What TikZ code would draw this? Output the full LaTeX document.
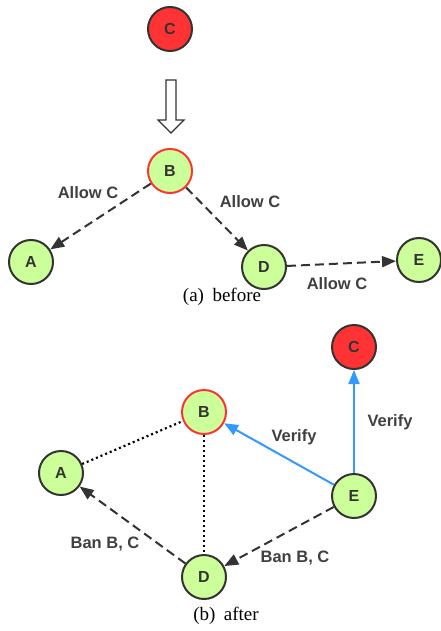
\documentclass[tikz,border=0pt]{standalone}
\usepackage{fontspec}
\setmainfont{Liberation Serif}
\newfontfamily\lblfont{Liberation Sans}
\usetikzlibrary{arrows.meta}
\definecolor{ngreen}{HTML}{CCFF99}
\definecolor{nred}{HTML}{FF3333}
\definecolor{ngray}{HTML}{333333}
\definecolor{tgray}{HTML}{404040}
\definecolor{vblue}{HTML}{3399FF}
\tikzset{
  gnode/.style={circle,draw=ngray,fill=ngreen,line width=2pt,minimum size=44pt,inner sep=0pt,font=\lblfont\bfseries\fontsize{16}{16}\selectfont,text=ngray},
  bnode/.style={gnode,draw=nred},
  rnode/.style={gnode,fill=nred},
  dasharrow/.style={ngray,line width=2pt,dash pattern=on 9pt off 5pt,-{Triangle[length=14pt,width=11pt]}},
  verifyarrow/.style={vblue,line width=2pt,-{Triangle[length=14pt,width=11pt]}},
  dotline/.style={black,line width=2.2pt,dash pattern=on 2pt off 3pt},
  elabel/.style={font=\lblfont\bfseries\fontsize{16.5}{16.5}\selectfont,text=tgray,inner sep=0pt},
  caption/.style={font=\fontsize{19}{19}\selectfont,inner sep=0pt}
}
\begin{document}
\begin{tikzpicture}[x=1pt,y=-1pt]
\useasboundingbox (0,0) rectangle (440,631);
% (a) before
\node[rnode] (Ca) at (170,29) {C};
\node[bnode] (Ba) at (170,171) {B};
\node[gnode] (Aa) at (31,262) {A};
\node[gnode] (Da) at (264,267) {D};
\node[gnode] (Ea) at (419,260) {E};
\draw[ngray,line width=1.1pt,fill=white] (166,80) -- (176,80) -- (176,120) -- (184,120) -- (171,133) -- (158,120) -- (166,120) -- cycle;
\draw[dasharrow] (Ba) -- (Aa);
\draw[dasharrow] (Ba) -- (Da);
\draw[dasharrow] (Da) -- (Ea);
\node[elabel] (la1) at (88,193) {Allow C};
\node[elabel] (la2) at (250,202) {Allow C};
\node[elabel] (la3) at (337,284) {Allow C};
\node[caption] (capa) at (222,297) {(a)\hspace{0.45em}before};
% (b) after
\node[rnode] (Cb) at (354,347) {C};
\node[bnode] (Bb) at (204,412) {B};
\node[gnode] (Ab) at (61,473) {A};
\node[gnode] (Eb) at (354,496) {E};
\node[gnode] (Db) at (204,577) {D};
\draw[dotline] (Ab) -- (Bb);
\draw[dotline] (Bb) -- (Db);
\draw[verifyarrow] (Eb) -- (Bb);
\draw[verifyarrow] (Eb) -- (Cb);
\draw[dasharrow] (Eb) -- (Db);
\draw[dasharrow] (Db) -- (Ab);
\node[elabel] (lb1) at (294,437) {Verify};
\node[elabel] (lb2) at (390,422) {Verify};
\node[elabel] (lb3) at (105,544) {Ban B, C};
\node[elabel] (lb4) at (295,558) {Ban B, C};
\node[caption] (capb) at (226,616) {(b)\hspace{0.45em}after};
\end{tikzpicture}
\end{document}
